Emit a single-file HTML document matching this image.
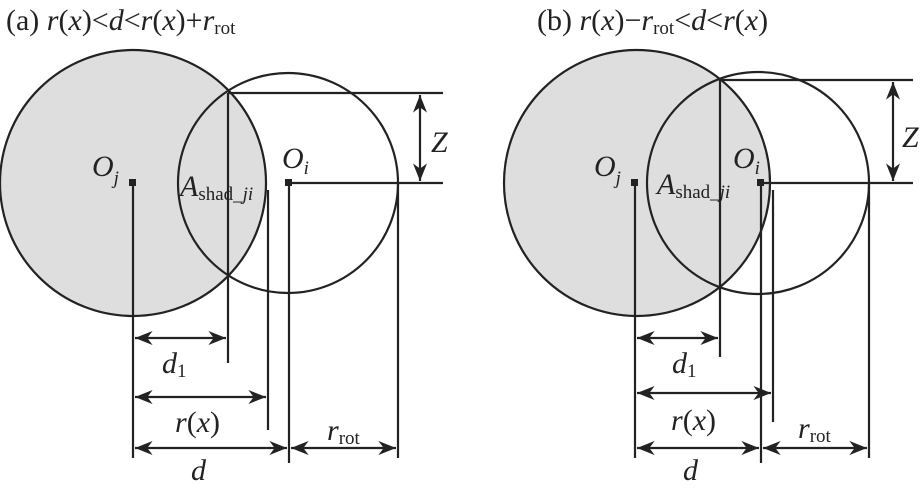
<!DOCTYPE html><html><head><style>body{margin:0;background:#fff}svg{display:block}text{font-family:"Liberation Serif",serif;fill:#222}</style></head><body>
<svg width="924" height="491" viewBox="0 0 924 491">
<defs><marker id="a" viewBox="0 0 10 10" refX="10" refY="5" markerWidth="8" markerHeight="8" markerUnits="strokeWidth" orient="auto-start-reverse"><path d="M0,1L10,5L0,9L3,5z" fill="#222"/></marker></defs>
<g stroke="#222" stroke-width="2.2" fill="none">
<circle cx="133" cy="183" r="133" fill="#dedede"/>
<circle cx="288" cy="183" r="110"/>
<path d="M228,93H443M290,183H443M133,183V458M228,93V363M268,190V430M289,183V463M398,183V458"/>
<circle cx="637" cy="183" r="133" fill="#dedede"/>
<circle cx="758" cy="183" r="111"/>
<path d="M720,80H913M763,183H913M635,183V458M720,80V357M773,190V422M761,183V463M869,183V458"/>
</g>
<g stroke="#222" stroke-width="2.2" marker-start="url(#a)" marker-end="url(#a)">
<line x1="420" y1="95" x2="420" y2="181"/>
<line x1="135" y1="338" x2="226" y2="338"/>
<line x1="135" y1="397" x2="266" y2="397"/>
<line x1="135" y1="448" x2="287" y2="448"/>
<line x1="291" y1="448" x2="396" y2="448"/>
<line x1="893" y1="82" x2="893" y2="181"/>
<line x1="637" y1="338" x2="718" y2="338"/>
<line x1="637" y1="393" x2="771" y2="393"/>
<line x1="637" y1="448" x2="759" y2="448"/>
<line x1="763" y1="448" x2="867" y2="448"/>
</g>
<rect x="129" y="179" width="7" height="7" fill="#222"/><rect x="285" y="179" width="7" height="7" fill="#222"/>
<rect x="631" y="179" width="7" height="7" fill="#222"/><rect x="757" y="179" width="7" height="7" fill="#222"/>
<g font-size="30">
<text x="6" y="30">(a) <tspan font-style="italic">r</tspan>(<tspan font-style="italic">x</tspan>)&lt;<tspan font-style="italic">d</tspan>&lt;<tspan font-style="italic">r</tspan>(<tspan font-style="italic">x</tspan>)+<tspan font-style="italic">r</tspan><tspan font-size="19" dy="4">rot</tspan></text>
<text x="537" y="30">(b) <tspan font-style="italic">r</tspan>(<tspan font-style="italic">x</tspan>)−<tspan font-style="italic">r</tspan><tspan font-size="19" dy="4">rot</tspan><tspan dy="-4">&lt;</tspan><tspan font-style="italic">d</tspan>&lt;<tspan font-style="italic">r</tspan>(<tspan font-style="italic">x</tspan>)</text>
<g font-style="italic">
<text x="92" y="176">O<tspan font-size="19" dy="8">j</tspan></text>
<text x="282" y="168">O<tspan font-size="19" dy="6">i</tspan></text>
<text x="180" y="196">A<tspan font-size="19" font-style="normal" dy="4">shad_</tspan><tspan font-size="19">ji</tspan></text>
<text x="431" y="152">Z</text>
<text x="162" y="373">d<tspan font-size="19" font-style="normal" dy="4">1</tspan></text>
<text x="175" y="432">r<tspan font-style="normal">(</tspan>x<tspan font-style="normal">)</tspan></text>
<text x="191" y="480">d</text>
<text x="327" y="440">r<tspan font-size="19" font-style="normal" dy="4">rot</tspan></text>
<text x="594" y="176">O<tspan font-size="19" dy="8">j</tspan></text>
<text x="733" y="168">O<tspan font-size="19" dy="6">i</tspan></text>
<text x="657" y="194">A<tspan font-size="19" font-style="normal" dy="4">shad_</tspan><tspan font-size="19">ji</tspan></text>
<text x="902" y="147">Z</text>
<text x="672" y="373">d<tspan font-size="19" font-style="normal" dy="4">1</tspan></text>
<text x="671" y="430">r<tspan font-style="normal">(</tspan>x<tspan font-style="normal">)</tspan></text>
<text x="683" y="480">d</text>
<text x="798" y="438">r<tspan font-size="19" font-style="normal" dy="4">rot</tspan></text>
</g></g>
</svg></body></html>
